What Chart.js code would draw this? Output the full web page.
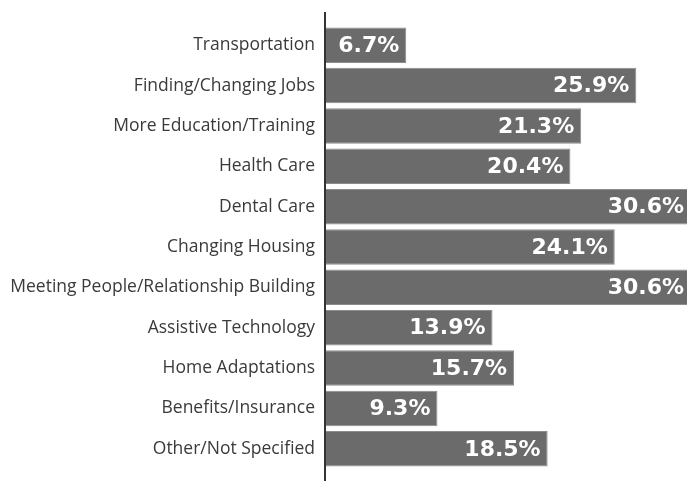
<!DOCTYPE html>
<html>
<head>
<meta charset="utf-8">
<script src="https://cdn.jsdelivr.net/npm/chart.js@4.4.1/dist/chart.umd.min.js"></script>
<style>
  html, body { margin: 0; padding: 0; background: #fff; }
  #wrap { width: 687px; height: 481px; position: relative; }
</style>
</head>
<body>
<div id="wrap"><canvas id="needsChart"></canvas></div>
<script>
// categories and values
const categories = [
  "Transportation",
  "Finding/Changing Jobs",
  "More Education/Training",
  "Health Care",
  "Dental Care",
  "Changing Housing",
  "Meeting People/Relationship Building",
  "Assistive Technology",
  "Home Adaptations",
  "Benefits/Insurance",
  "Other/Not Specified"
]
const percents = [6.7, 25.9, 21.3, 20.4, 30.6, 24.1, 30.6, 13.9, 15.7, 9.3, 18.5]
const valueLabels = ["6.7%", "25.9%", "21.3%", "20.4%", "30.6%", "24.1%", "30.6%", "13.9%", "15.7%", "9.3%", "18.5%"]

// white value text at the end of every bar
const barValues = {
  id: "barValues",
  afterDatasetsDraw(chart) {
    const ctx = chart.ctx
    const area = chart.chartArea
    const meta = chart.getDatasetMeta(0)
    ctx.save()
    ctx.fillStyle = "#ffffff"
    ctx.font = "bold 22px 'DejaVu Sans'"
    ctx.textAlign = "right"
    ctx.textBaseline = "middle"
    meta.data.forEach((bar, i) => {
      const x = Math.min(bar.x - 7, area.right - 3)
      ctx.fillText(valueLabels[i], x, bar.y + 1)
    })
    ctx.restore()
  }
}

// vertical axis line, a bit longer than the bars
const axisLine = {
  id: "axisLine",
  afterDraw(chart) {
    const ctx = chart.ctx
    const area = chart.chartArea
    ctx.save()
    ctx.strokeStyle = "#333333"
    ctx.lineWidth = 2
    ctx.beginPath()
    ctx.moveTo(area.left - 1, area.top - 13)
    ctx.lineTo(area.left - 1, chart.height)
    ctx.stroke()
    ctx.restore()
  }
}

new Chart(document.getElementById("needsChart"), {
  type: "bar",
  data: {
    labels: categories,
    datasets: [{
      data: percents,
      backgroundColor: "#6b6b6b",
      borderColor: "#8c8c8c",
      borderWidth: 1,
      barPercentage: 0.88,
      categoryPercentage: 1.0
    }]
  },
  options: {
    indexAxis: "y",
    responsive: true,
    maintainAspectRatio: false,
    animation: false,
    layout: { padding: { top: 25, bottom: 12, left: 0, right: 0 } },
    plugins: {
      legend: { display: false },
      tooltip: { enabled: false }
    },
    scales: {
      x: {
        display: false,
        min: 0,
        max: 30.13
      },
      y: {
        afterFit(scale) { scale.width = 326 },
        grid: { display: false },
        border: { display: false },
        ticks: {
          padding: 3,
          color: "#3a3a3a",
          font: { family: "'Open Sans'", size: 17.5, lineHeight: 1 }
        }
      }
    }
  },
  plugins: [barValues, axisLine]
})
</script>
</body>
</html>
